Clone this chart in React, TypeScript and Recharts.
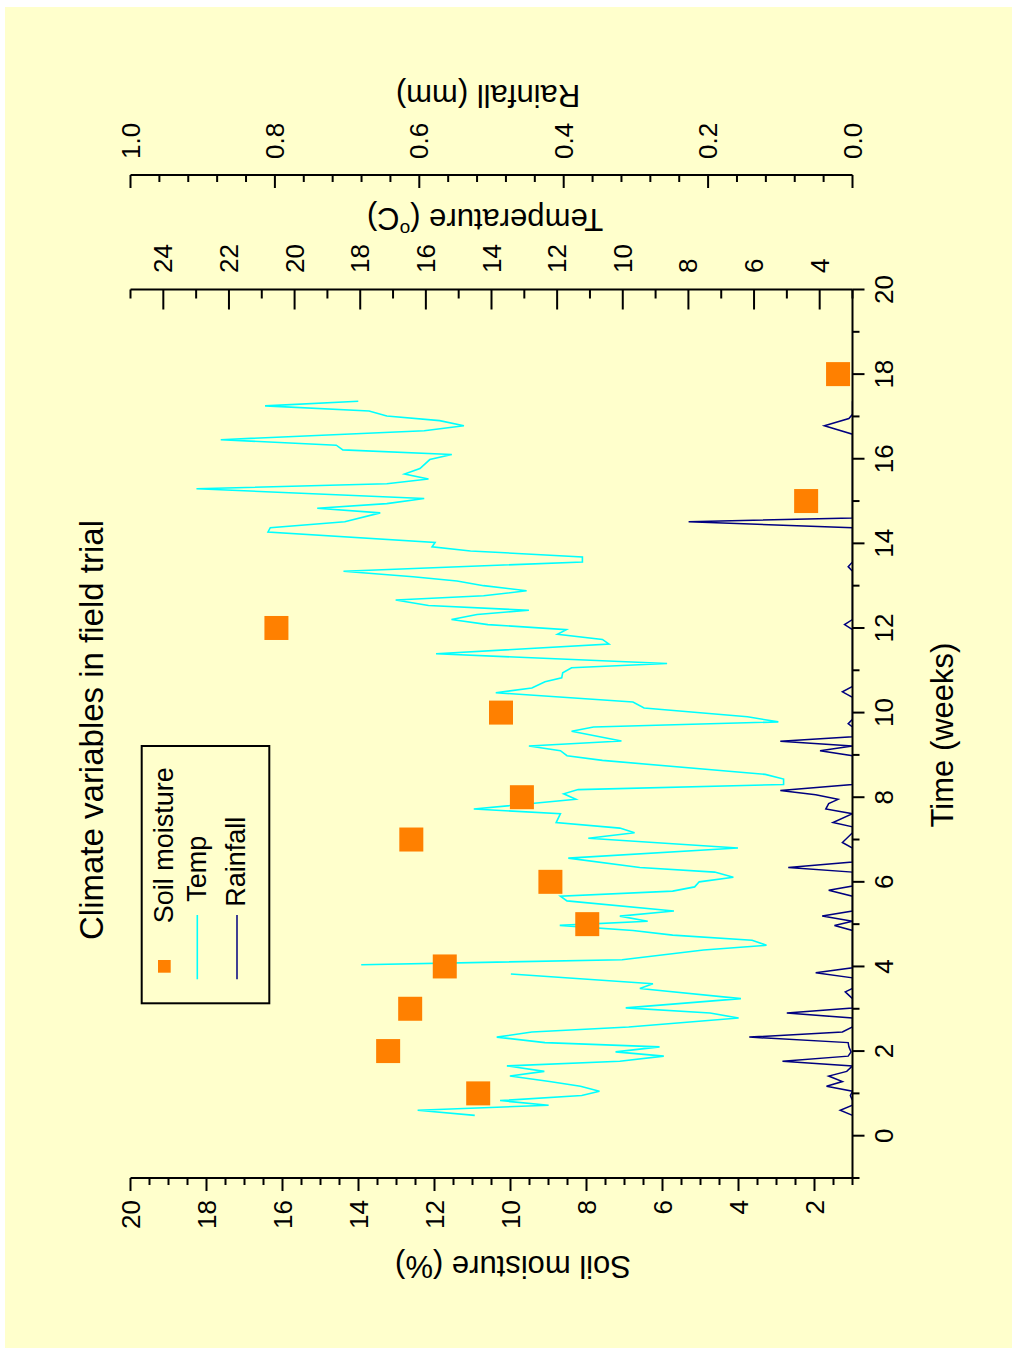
import React from "react";
import { ComposedChart, Line, Scatter, XAxis, YAxis } from "recharts";

// soil moisture samples (weekly)
const soilWeeks = [1, 2, 3, 4, 5, 6, 7, 8, 10, 12, 15, 18];
const soilMoisture = [10.85, 13.22, 12.64, 11.73, 7.98, 8.95, 12.61, 9.7, 10.25, 16.16, 2.22, 1.38];

// temperature trace (null = gap in logger record)
const tempWeeks = [
  0.48, 0.6, 0.72, 0.83, 0.95, 1.05, 1.17, 1.28, 1.41, 1.52,
  1.65, 1.76, 1.88, 1.98, 2.1, 2.2, 2.33, 2.45, 2.57, 2.78,
  2.9, 3.02, 3.24, 3.48, 3.59, 3.82, 3.93, 4.04, 4.16, 4.39,
  4.5, 4.62, 4.74, 4.85, 4.97, 5.07, 5.19, 5.31, 5.55, 5.66,
  5.78, 5.88, 6.0, 6.11, 6.23, 6.34, 6.56, 6.8, 7.03, 7.16,
  7.27, 7.4, 7.61, 7.72, 7.95, 8.08, 8.18, 8.3, 8.43, 8.54,
  8.87, 8.98, 9.1, 9.21, 9.33, 9.56, 9.66, 9.78, 9.9, 10.11,
  10.25, 10.47, 10.58, 10.73, 10.82, 10.94, 11.06, 11.16, 11.39, 11.62,
  11.73, 11.85, 11.96, 12.08, 12.2, 12.32, 12.42, 12.53, 12.66, 12.76,
  12.88, 13.0, 13.11, 13.21, 13.34, 13.56, 13.68, 13.82, 13.92, 14.02,
  14.27, 14.37, 14.51, 14.72, 14.83, 14.94, 15.06, 15.29, 15.41, 15.52,
  15.64, 15.77, 15.98, 16.1, 16.21, 16.32, 16.45, 16.66, 16.78, 16.9,
  17.01, 17.13, 17.25, 17.36,
];
const tempC = [
  14.51, 16.25, 12.26, 13.74, 11.25, 10.71, 11.29, 12.23, 13.44, 12.39,
  13.53, 10.09, 8.75, 10.22, 8.88, 12.37, 13.84, 12.77, 9.82, 6.47,
  7.34, 9.91, 6.4, 9.48, 9.08, 13.41, null, 17.97, 10.02, 7.54,
  5.62, 6.06, 8.48, 9.69, 11.92, 9.24, 10.09, 8.44, 11.7, 11.9,
  8.48, 7.81, 7.67, 6.63, 7.2, 9.48, 11.66, 6.49, 11.05, 9.64,
  10.09, 12.03, 11.9, 14.54, 11.43, 11.8, 11.36, 5.1, 5.1, 5.66,
  10.62, 11.7, 11.9, 12.86, 10.04, 11.56, 10.89, 5.26, 6.2, 9.35,
  9.69, 13.87, 12.77, 12.37, 11.86, 11.83, 11.56, 8.65, 15.69, 10.42,
  10.62, 11.99, 11.72, 14.11, 15.22, 14.44, 12.86, 15.92, 16.92, 14.24,
  12.93, 14.24, 15.05, 16.39, 18.51, 11.23, 11.23, 14.64, 15.81, 15.72,
  20.81, 20.74, 18.47, 17.39, 19.31, 17.19, 16.05, 22.99, 17.19, 15.92,
  16.65, 16.18, 15.88, 15.21, 18.53, 18.73, 22.25, 16.05, 14.84, 15.58,
  17.19, 17.73, 20.9, 18.06,
];

// rainfall trace
const rainWeeks = [
  0.48, 0.6, 0.72, 0.83, 0.95, 1.05, 1.17, 1.28, 1.41, 1.52,
  1.65, 1.76, 1.88, 1.98, 2.1, 2.2, 2.33, 2.45, 2.57, 2.78,
  2.9, 3.02, 3.24, 3.4, 3.48, 3.73, 3.85, 3.97, 4.16, 4.85,
  4.97, 5.07, 5.19, 5.31, 5.66, 5.8, 5.9, 6.23, 6.34, 6.47,
  6.8, 6.93, 7.16, 7.3, 7.4, 7.61, 7.72, 7.85, 7.95, 8.06,
  8.16, 8.3, 8.98, 9.1, 9.21, 9.32, 9.43, 9.66, 9.74, 9.84,
  10.36, 10.49, 10.62, 11.96, 12.08, 12.2, 13.34, 13.45, 13.56, 14.37,
  14.51, 14.6, 16.58, 16.78, 16.95, 17.05, 17.36,
];
const rainMm = [
  0, 0.017, 0, 0, 0.003, 0, 0.036, 0.014, 0.033, 0.008,
  0, 0.097, 0.006, 0.002, 0.005, 0.006, 0.143, 0.014, 0, 0,
  0.091, 0, 0, 0.01, 0, 0, 0.051, 0, 0, 0,
  0.025, 0, 0.042, 0, 0, 0.033, 0, 0, 0.089, 0,
  0, 0.014, 0, 0, 0.027, 0, 0.037, 0.033, 0.02, 0.051,
  0.1, 0, 0, 0.045, 0, 0.1, 0, 0, 0.006, 0,
  0, 0.014, 0, 0, 0.011, 0, 0, 0.006, 0, 0,
  0.227, 0, 0, 0.039, 0.005, 0, 0,
];

// labelled ticks
const timeLabels = [0, 2, 4, 6, 8, 10, 12, 14, 16, 18, 20];
const soilLabels = [2, 4, 6, 8, 10, 12, 14, 16, 18, 20];
const tempLabels = [4, 6, 8, 10, 12, 14, 16, 18, 20, 22, 24];
const rainLabels = [0, 0.2, 0.4, 0.6, 0.8, 1.0];

const soilData = soilWeeks.map((t, i) => ({ t, sm: soilMoisture[i] }));
const tempData = tempWeeks.map((t, i) => ({ t, temp: tempC[i] }));
const rainData = rainWeeks.map((t, i) => ({ t, rain: rainMm[i] }));

const range = (a: number, b: number, step: number) => {
  const out: number[] = [];
  for (let v = a; v <= b + 1e-9; v += step) out.push(Math.round(v * 1000) / 1000);
  return out;
};
const timeTicks = range(-1, 20, 1);
const soilTicks = range(1, 20, 0.5);
const tempTicks = range(3, 25, 1);
const rainTicks = range(0, 1, 0.04);

const FONT = "'Liberation Sans', Arial, Helvetica, sans-serif";
const BG = "#FFFFCC";
const TICK_FS = 26;
const isMajor = (v: number, labels: number[]) => labels.some((l) => Math.abs(l - v) < 1e-6);

function TimeTick({ x, y, payload }: any) {
  const major = isMajor(payload.value, timeLabels);
  return (
    <g>
      <line x1={x} y1={y} x2={x} y2={y + (major ? 12 : 7)} stroke="#000" strokeWidth={2} />
      {major && (
        <text x={x} y={y + 31} textAnchor="middle" dominantBaseline="central" fontSize={TICK_FS} fontFamily={FONT} fill="#000">
          {payload.value}
        </text>
      )}
    </g>
  );
}

function TopTick({ x, y }: any) {
  return <line x1={x} y1={y} x2={x} y2={y + 3} stroke="#000" strokeWidth={2} />;
}

function SoilTick({ x, y, payload }: any) {
  const major = isMajor(payload.value, soilLabels);
  return (
    <g>
      <line x1={x} y1={y} x2={x - (major ? 13 : 7)} y2={y} stroke="#000" strokeWidth={2} />
      {major && (
        <text x={x - 22} y={y} textAnchor="end" dominantBaseline="central" fontSize={TICK_FS} fontFamily={FONT} fill="#000">
          {payload.value}
        </text>
      )}
    </g>
  );
}

function TempTick({ x, y, payload }: any) {
  const major = isMajor(payload.value, tempLabels);
  return (
    <g>
      <line x1={x} y1={y} x2={x - (major ? 20 : 9)} y2={y} stroke="#000" strokeWidth={2} />
      {major && (
        <text x={x + 16.5} y={y} textAnchor="start" dominantBaseline="central" fontSize={TICK_FS} fontFamily={FONT} fill="#000">
          {payload.value}
        </text>
      )}
    </g>
  );
}

function RainTick({ x, y, payload }: any) {
  const major = isMajor(payload.value, rainLabels);
  return (
    <g>
      <line x1={x} y1={y} x2={x - (major ? 13 : 7)} y2={y} stroke="#000" strokeWidth={2} />
      {major && (
        <text x={x + 16} y={y} textAnchor="start" dominantBaseline="central" fontSize={TICK_FS} fontFamily={FONT} fill="#000">
          {payload.value.toFixed(1)}
        </text>
      )}
    </g>
  );
}

const SquareMarker = ({ cx, cy }: any) => <rect x={cx - 12} y={cy - 12} width={24} height={24} fill="#FF8000" />;

const W = 1341;
const H = 1007;
const axisLine = { stroke: "#000", strokeWidth: 2 };

export default function App() {
  return (
    <div style={{ position: "absolute", left: 0, top: 0, width: 1012, height: 1348, background: "#fff", overflow: "hidden" }}>
      <div
        style={{
          position: "absolute",
          left: 5,
          top: 1348,
          width: W,
          height: H,
          background: BG,
          transform: "rotate(-90deg)",
          transformOrigin: "0 0",
          fontFamily: FONT,
        }}
      >
        <ComposedChart width={W} height={H} margin={{ top: 125.5, right: 0, bottom: 0, left: 0 }}>
          <XAxis
            xAxisId="time"
            dataKey="t"
            type="number"
            domain={[-1, 20]}
            ticks={timeTicks}
            interval={0}
            height={159.5}
            tickSize={0}
            tickMargin={0}
            tickLine={false}
            axisLine={axisLine}
            tick={<TimeTick />}
            allowDataOverflow
          />
          <XAxis
            xAxisId="top"
            dataKey="t"
            type="number"
            orientation="top"
            domain={[-1, 20]}
            ticks={timeTicks}
            interval={0}
            height={0}
            tickSize={0}
            tickMargin={0}
            tickLine={false}
            axisLine={axisLine}
            tick={<TopTick />}
            allowDataOverflow
          />
          <YAxis
            yAxisId="soil"
            dataKey="sm"
            type="number"
            domain={[1, 20]}
            ticks={soilTicks}
            interval={0}
            width={170}
            tickSize={0}
            tickMargin={0}
            tickLine={false}
            axisLine={axisLine}
            tick={<SoilTick />}
            allowDataOverflow
          />
          {/* outer right axis (rainfall) */}
          <YAxis
            yAxisId="b_rain"
            orientation="right"
            type="number"
            domain={[0, 1]}
            ticks={rainTicks}
            interval={0}
            width={168}
            tickSize={0}
            tickMargin={0}
            tickLine={false}
            axisLine={axisLine}
            tick={<RainTick />}
            allowDataOverflow
          />
          {/* inner right axis (temperature) */}
          <YAxis
            yAxisId="a_temp"
            orientation="right"
            type="number"
            domain={[3, 25]}
            ticks={tempTicks}
            interval={0}
            width={114.5}
            tickSize={0}
            tickMargin={0}
            tickLine={false}
            axisLine={axisLine}
            tick={<TempTick />}
            allowDataOverflow
          />
          <Scatter
            xAxisId="time"
            yAxisId="soil"
            data={soilData}
            dataKey="sm"
            shape={<SquareMarker />}
            isAnimationActive={false}
          />
          <Line
            xAxisId="time"
            yAxisId="a_temp"
            data={tempData}
            dataKey="temp"
            type="linear"
            stroke="#00FFFF"
            strokeWidth={1.6}
            dot={false}
            isAnimationActive={false}
          />
          <Line
            xAxisId="time"
            yAxisId="b_rain"
            data={rainData}
            dataKey="rain"
            type="linear"
            stroke="#000080"
            strokeWidth={1.5}
            dot={false}
            isAnimationActive={false}
          />
        </ComposedChart>

        <svg width={W} height={H} style={{ position: "absolute", left: 0, top: 0, pointerEvents: "none" }} fontFamily={FONT}>
          <text x={618} y={97.7} textAnchor="middle" fontSize={33} fill="#000">
            Climate variables in field trial
          </text>
          <text x={613} y={937} textAnchor="middle" dominantBaseline="central" fontSize={31} fill="#000">
            Time (weeks)
          </text>
          <text x={82} y={508} transform="rotate(-90 82 508)" textAnchor="middle" dominantBaseline="central" fontSize={31} fill="#000">
            Soil moisture (%)
          </text>
          <text x={1129} y={480} transform="rotate(-90 1129 480)" textAnchor="middle" dominantBaseline="central" fontSize={31} fill="#000">
            Temperature (<tspan fontSize={19} dy={-11}>o</tspan><tspan dy={11}>C)</tspan>
          </text>
          <text x={1253} y={483} transform="rotate(-90 1253 483)" textAnchor="middle" dominantBaseline="central" fontSize={31} fill="#000">
            Rainfall (mm)
          </text>

          <rect x={344.7} y={136.7} width={257.3} height={127.6} fill="none" stroke="#000" strokeWidth={2} />
          <rect x={375.3} y={153} width={12.7} height={12.7} fill="#FF8000" />
          <line x1={368.7} y1={192.3} x2={433} y2={192.3} stroke="#00FFFF" strokeWidth={1.6} />
          <line x1={368.7} y1={232} x2={433} y2={232} stroke="#000080" strokeWidth={1.5} />
          <text x={424.7} y={159} dominantBaseline="central" fontSize={27} fill="#000">
            Soil moisture
          </text>
          <text x={446.3} y={192} dominantBaseline="central" fontSize={27} fill="#000">
            Temp
          </text>
          <text x={441.3} y={231} dominantBaseline="central" fontSize={27} fill="#000">
            Rainfall
          </text>
        </svg>
      </div>
    </div>
  );
}
